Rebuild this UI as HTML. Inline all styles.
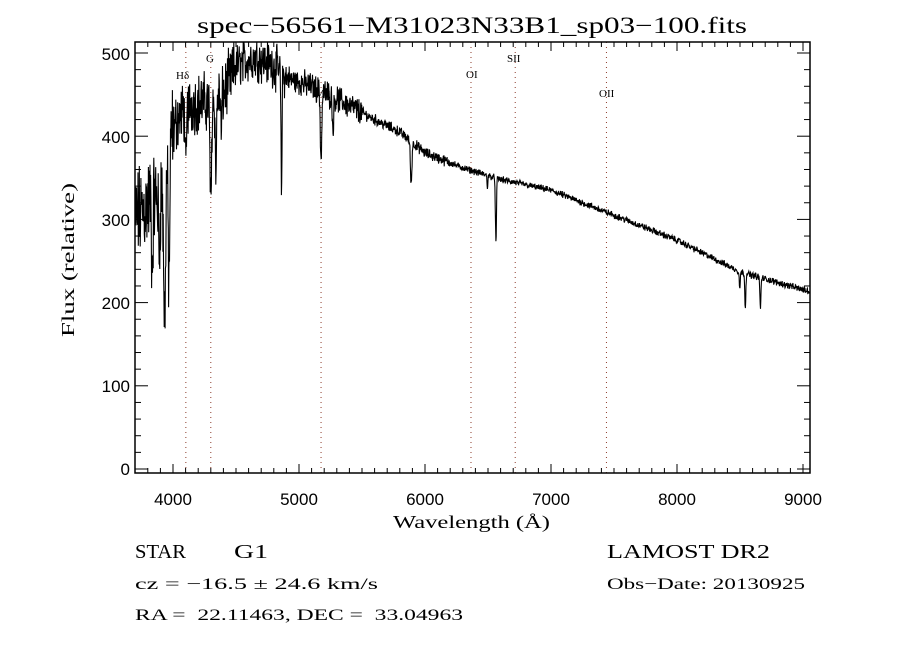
<!DOCTYPE html>
<html><head><meta charset="utf-8"><style>
body{margin:0;background:#fff;width:900px;height:650px;overflow:hidden}
svg{display:block}
.s{font-family:"Liberation Sans",sans-serif;font-size:17px;fill:#000}
.r{font-family:"Liberation Serif",serif;fill:#000}
</style></head><body>
<svg id="g" width="900" height="650" viewBox="0 0 900 650" xmlns="http://www.w3.org/2000/svg">
<rect width="900" height="650" fill="#fff"/>
<g id="dots" stroke="#8b3a2a" stroke-width="1" stroke-dasharray="1,4"></g>
<path id="spec" fill="none" stroke="#000" stroke-width="1.1"/>
<rect x="135" y="42" width="675" height="431" fill="none" stroke="#000" stroke-width="1.5"/>
<g id="ticks" stroke="#000" stroke-width="1"></g>
<g class="s" text-anchor="middle">
<text x="173" y="505">4000</text><text x="299" y="505">5000</text><text x="425" y="505">6000</text>
<text x="551" y="505">7000</text><text x="677" y="505">8000</text><text x="803" y="505">9000</text>
</g>
<g class="s" text-anchor="end">
<text x="130" y="475">0</text><text x="130" y="392">100</text><text x="130" y="309">200</text>
<text x="130" y="226">300</text><text x="130" y="143">400</text><text x="130" y="60">500</text>
</g>
<text class="r" x="197" y="33" font-size="23" textLength="550" lengthAdjust="spacingAndGlyphs">spec−56561−M31023N33B1_sp03−100.fits</text>
<text class="r" x="393" y="528" font-size="18" textLength="157" lengthAdjust="spacingAndGlyphs">Wavelength (Å)</text>
<text class="r" transform="translate(74,337) rotate(-90)" font-size="18" textLength="154" lengthAdjust="spacingAndGlyphs">Flux (relative)</text>
<g class="r" font-size="11">
<text x="176" y="79">Hδ</text><text x="206" y="62">G</text><text x="315" y="97">Mg</text>
<text x="466" y="78">OI</text><text x="507" y="62">SII</text><text x="599" y="97">OII</text>
</g>
<g class="r">
<text x="135" y="558" font-size="20" textLength="51" lengthAdjust="spacingAndGlyphs">STAR</text>
<text x="234" y="558" font-size="20" textLength="34" lengthAdjust="spacingAndGlyphs">G1</text>
<text x="607" y="558" font-size="20" textLength="163" lengthAdjust="spacingAndGlyphs">LAMOST DR2</text>
<text x="135" y="589" font-size="16" textLength="243" lengthAdjust="spacingAndGlyphs">cz = −16.5 ± 24.6 km/s</text>
<text x="607" y="589" font-size="16" textLength="198" lengthAdjust="spacingAndGlyphs">Obs−Date: 20130925</text>
<text x="135" y="620" font-size="16" textLength="328" lengthAdjust="spacingAndGlyphs" xml:space="preserve">RA =  22.11463, DEC =  33.04963</text>
</g>
</svg>
<script>
var X=function(l){return 173+(l-4000)*0.126},Y=function(f){return 469-f*0.832};
var t='';
for(var l=3700;l<=9050;l+=100){var x=X(l);if(x<135.5)continue;var M=l%1000==0;
t+='<line x1="'+x+'" y1="473" x2="'+x+'" y2="'+(473-(M?9:5))+'"/>';
t+='<line x1="'+x+'" y1="42" x2="'+x+'" y2="'+(42+(M?9:5))+'"/>';}
for(var f=0;f<=510;f+=20){var y=Y(f);if(y<42)continue;var M=f%100==0;
t+='<line x1="135" y1="'+y+'" x2="'+(135+(M?13:6))+'" y2="'+y+'"/>';
t+='<line x1="810" y1="'+y+'" x2="'+(810-(M?13:6))+'" y2="'+y+'"/>';}
document.getElementById('ticks').innerHTML=t;
var d='';[4102,4300,5175,6365,6716,7440].forEach(function(l){var x=X(l);d+='<line x1="'+x+'" y1="42" x2="'+x+'" y2="473"/>';});
document.getElementById('dots').innerHTML=d;
var cp=[[3700,300],[3800,320],[3900,330],[3980,400],[4050,425],[4150,440],[4250,440],[4400,450],[4500,485],[4650,495],[4800,485],[4900,470],[5100,460],[5300,445],[5600,420],[5800,405],[6000,380],[6300,362],[6600,348],[7000,335],[7500,305],[8000,275],[8500,237],[9060,213]];
function base(l){for(var i=0;i<cp.length-1;i++){if(l<=cp[i+1][0]){var a=cp[i],b=cp[i+1];return a[1]+(b[1]-a[1])*(l-a[0])/(b[0]-a[0]);}}return 213;}
var lines=[[3933,180,8],[3968,160,7],[3835,90,5],[3890,80,5],[4102,80,5],[4300,130,6],[4340,90,5],[4383,50,4],[4861,140,4],[5175,80,6],[5270,40,5],[5890,50,6],[6563,80,4],[6495,15,3],[8498,20,4],[8542,40,4],[8662,38,4]];
var s=12345;function rnd(){s=(s*1103515245+12345)%2147483648;return s/2147483648;}
var p='';
for(var l=3700;l<=9055;l+=2.5){var f=base(l);
var amp=l<4000?90:(l<4500?55:(l<4900?40:(l<5500?24:(l<6200?10:6))));
f+=(rnd()-0.5)*amp+(rnd()-0.5)*amp*0.6;
lines.forEach(function(q){var z=(l-q[0])/q[2];f-=q[1]*Math.exp(-z*z/2);});
var x=X(l),y=Y(f);if(y<42)y=42;
p+=(p?'L':'M')+x.toFixed(1)+','+y.toFixed(1);}
document.getElementById('spec').setAttribute('d',p);
</script>
</body></html>
